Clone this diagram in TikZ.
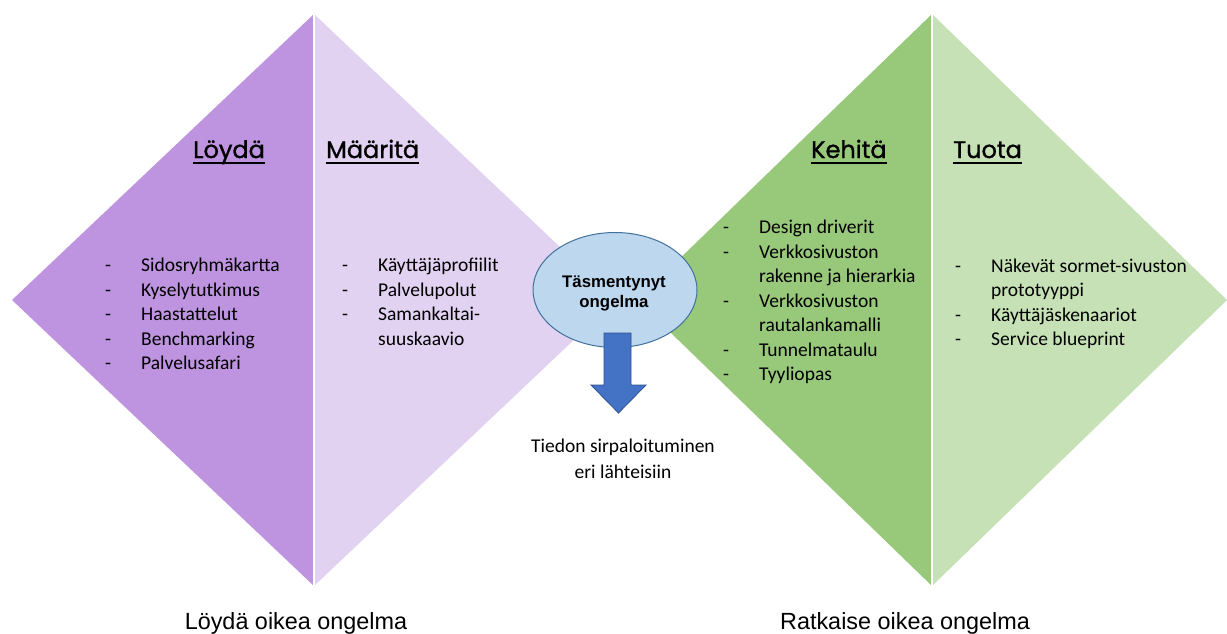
\documentclass[tikz,border=0pt]{standalone}
\usepackage{fontspec}
\setmainfont{Carlito}
\newfontfamily\arialfont{Liberation Sans}
\newfontfamily\headfont[FakeBold=1.2]{Poppins}
\usetikzlibrary{shapes.geometric}

\definecolor{purpleDark}{RGB}{190,148,224}
\definecolor{purpleLight}{RGB}{225,210,241}
\definecolor{greenDark}{RGB}{152,200,122}
\definecolor{greenLight}{RGB}{198,225,181}
\definecolor{coreFill}{RGB}{189,215,238}
\definecolor{coreLine}{RGB}{65,113,156}
\definecolor{arrowFill}{RGB}{68,114,196}
\definecolor{arrowLine}{RGB}{47,82,143}

% list rows: a dash, then the entry text
\newcommand\itm[1]{\makebox[36pt][l]{-}#1}
\newcommand\cnt[1]{\hspace*{36pt}#1}

\begin{document}
\begin{tikzpicture}[x=1pt,y=-1pt,
  phase/.style={anchor=base west, inner sep=0pt,
    font=\headfont\fontsize{24}{28}\selectfont},
  bar/.style={line width=2pt, black},
  itemlist/.style={anchor=base west, inner sep=0pt,
    font=\fontsize{19.5}{24.5}\selectfont},
  caption/.style={anchor=base, inner sep=0pt,
    font=\arialfont\fontsize{23.4}{28}\selectfont},
  divider/.style={white, line width=1.6pt}]

\useasboundingbox (0,0) rectangle (1227,633);

% first diamond: discover / define
\fill[purpleDark] (314,14) -- (12,300) -- (314,586) -- cycle;
\fill[purpleLight] (314,14) -- (616,300) -- (314,586) -- cycle;
\draw[divider] (314,14) -- (314,586);

% second diamond: develop / deliver
\fill[greenDark] (932,14) -- (637,300) -- (932,586) -- cycle;
\fill[greenLight] (932,14) -- (1227,300) -- (932,586) -- cycle;
\draw[divider] (932,14) -- (932,586);

% phase headings
\node[phase] (loyda) at (193,158) {Löydä};
\node[phase] (maarita) at (326,158) {Määritä};
\node[phase] (kehita) at (811,158) {Kehitä};
\node[phase] (tuota) at (953,158) {Tuota};
\foreach \h in {loyda,maarita,kehita,tuota}
  \draw[bar] ([yshift=-5pt]\h.base west) -- ([yshift=-5pt]\h.base east);

% method lists
\node[itemlist] (listA) at (105,271.5) {\begin{tabular}[t]{@{}l@{}}
  \itm{Sidosryhmäkartta}\\
  \itm{Kyselytutkimus}\\
  \itm{Haastattelut}\\
  \itm{Benchmarking}\\
  \itm{Palvelusafari}
\end{tabular}};
\node[itemlist] (listB) at (342,271.5) {\begin{tabular}[t]{@{}l@{}}
  \itm{Käyttäjäprofiilit}\\
  \itm{Palvelupolut}\\
  \itm{Samankaltai-}\\
  \cnt{suuskaavio}
\end{tabular}};
\node[itemlist] (listC) at (723,233.5) {\begin{tabular}[t]{@{}l@{}}
  \itm{Design driverit}\\
  \itm{Verkkosivuston}\\
  \cnt{rakenne ja hierarkia}\\
  \itm{Verkkosivuston}\\
  \cnt{rautalankamalli}\\
  \itm{Tunnelmataulu}\\
  \itm{Tyyliopas}
\end{tabular}};
\node[itemlist] (listD) at (955,272) {\begin{tabular}[t]{@{}l@{}}
  \itm{Näkevät sormet-sivuston}\\
  \cnt{prototyyppi}\\
  \itm{Käyttäjäskenaariot}\\
  \itm{Service blueprint}
\end{tabular}};

% refined problem in the middle
\node[ellipse, draw=coreLine, fill=coreFill, line width=1pt,
  minimum width=164pt, minimum height=115pt, inner sep=0pt] (core) at (615,290) {};
\node[inner sep=0pt, align=center,
  font=\arialfont\bfseries\fontsize{16.8}{20}\selectfont] (coretext) at (614,293)
  {Täsmentynyt\\ongelma};

% block arrow pointing down from the ellipse
\filldraw[fill=arrowFill, draw=arrowLine, line width=0.8pt]
  (604,333) -- (631,333) -- (631,385) -- (646,385) -- (618.5,413)
  -- (591,385) -- (604,385) -- cycle;

\node[anchor=base, inner sep=0pt, font=\fontsize{19.5}{25.5}\selectfont] (scatter)
  at (623,452.5) {\begin{tabular}[t]{@{}c@{}}Tiedon sirpaloituminen\\eri lähteisiin\end{tabular}};

% captions under the diamonds
\node[caption] (capA) at (296,629) {Löydä oikea ongelma};
\node[caption] (capB) at (905,629) {Ratkaise oikea ongelma};

\end{tikzpicture}
\end{document}
